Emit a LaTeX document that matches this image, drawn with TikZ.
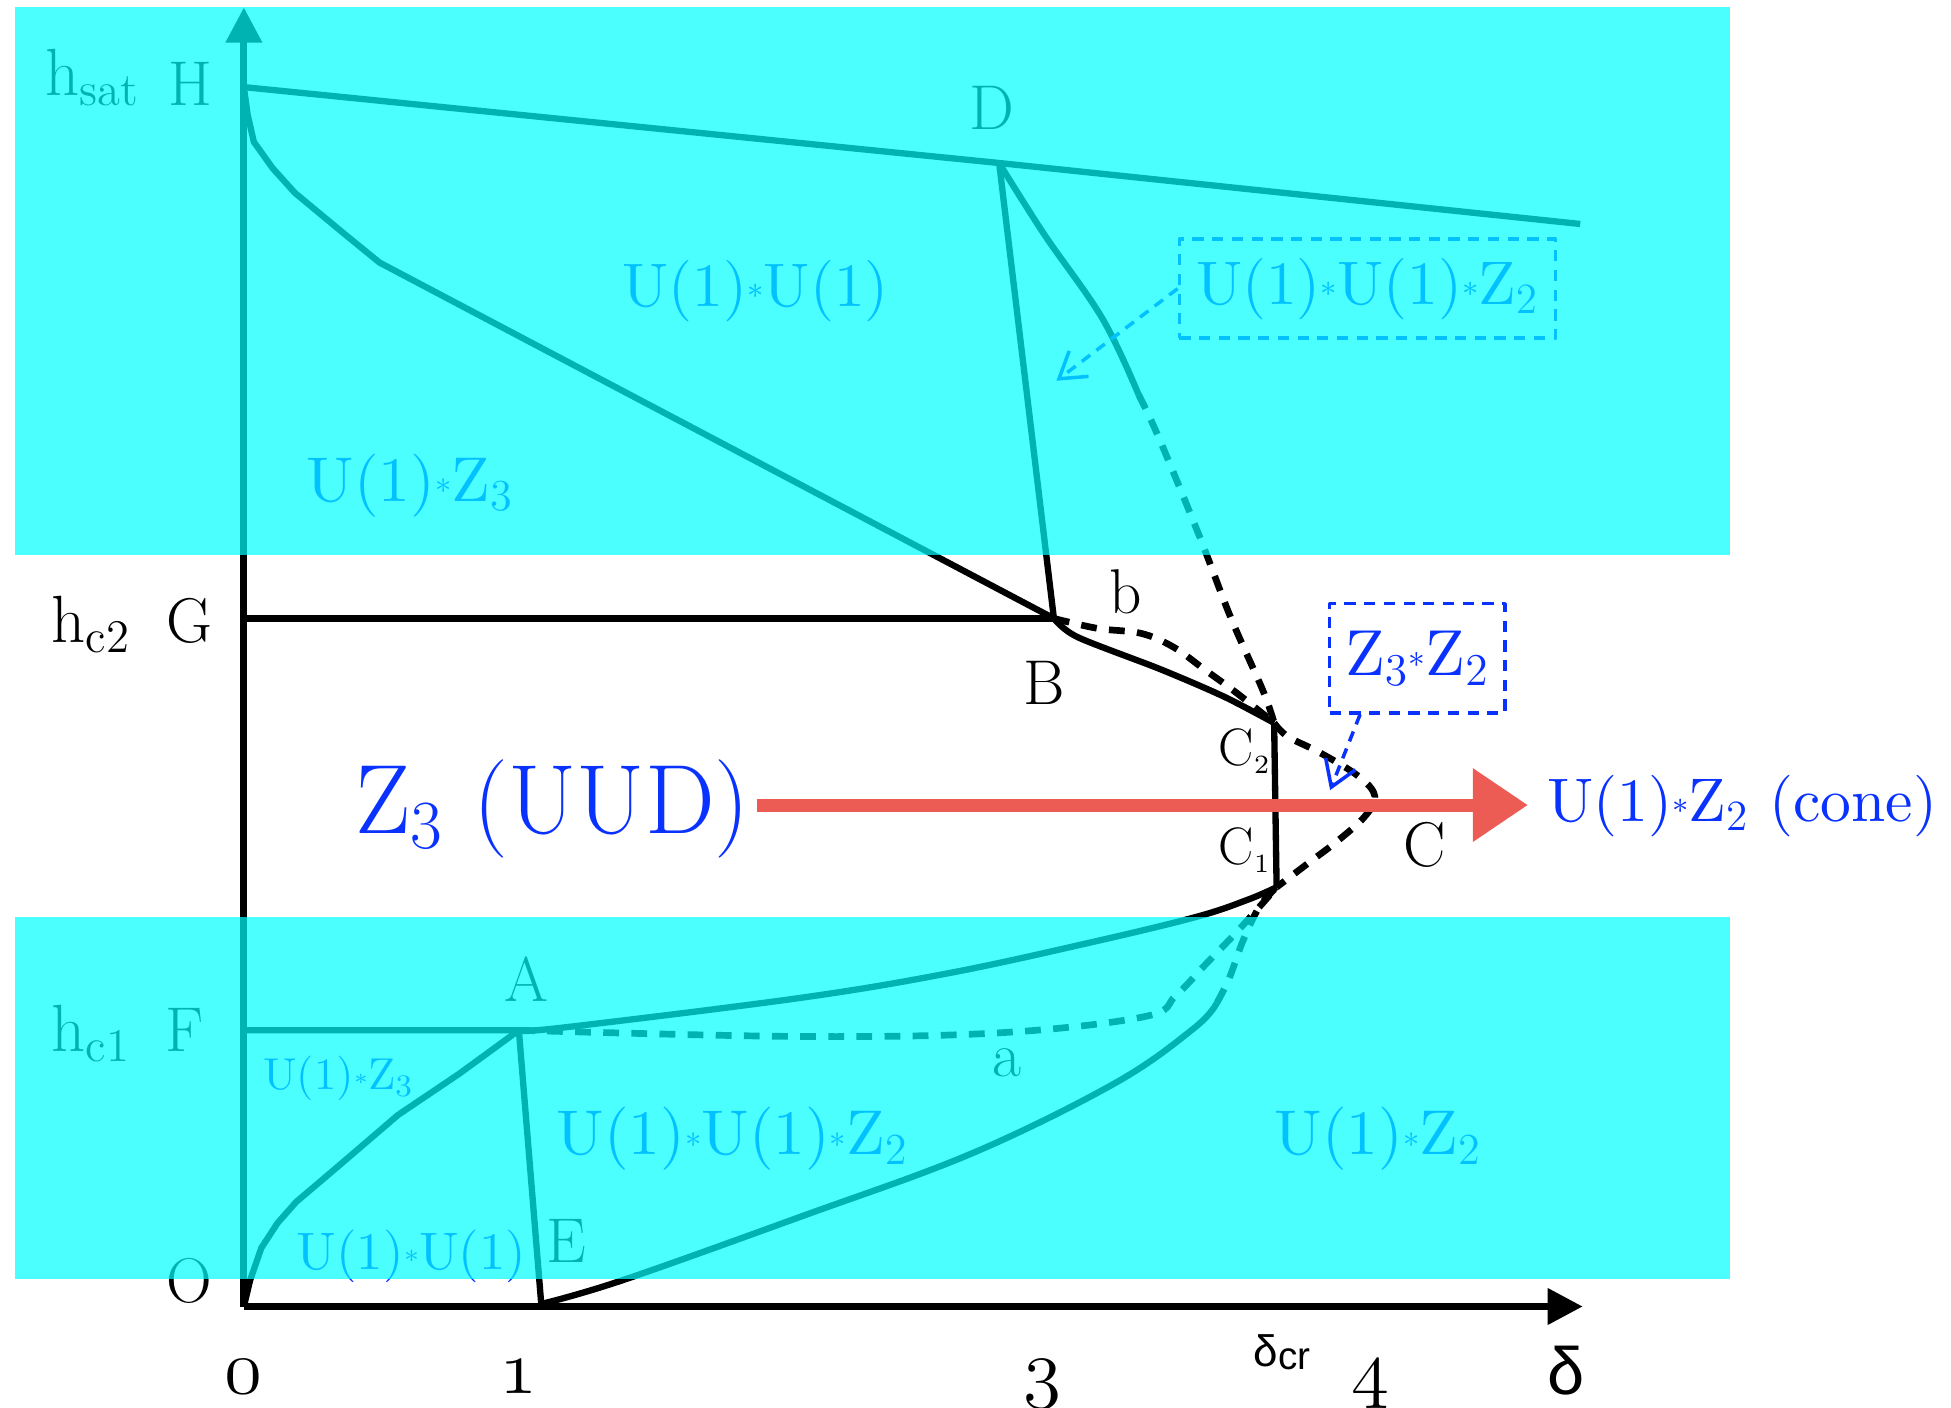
\documentclass[tikz,border=0pt]{standalone}
\usepackage{fix-cm}
\usepackage{fontspec}
\newfontfamily\gsans{Liberation Sans}
\newfontfamily\lmten{lmroman10-regular.otf}
\usetikzlibrary{arrows.meta,calc}
\definecolor{zblue}{RGB}{10,50,255}
\definecolor{chalk}{RGB}{236,92,84}
\definecolor{bandc}{RGB}{0,255,255}
\newcommand\sx{\raisebox{.12em}{$\scriptscriptstyle\ast$}}
\newcommand\Zn[1]{Z$_{#1}$}
\newcommand\fs[1]{\fontsize{#1}{#1}\selectfont}
\newcommand\onum[1]{{\fontsize{22}{24}\usefont{OML}{lmm}{m}{it}#1}}
\begin{document}
\begin{tikzpicture}[x=0.012443cm,y=-0.012443cm,line join=round,
  every node/.style={inner sep=0pt,anchor=base},
  ln/.style={line width=1.8pt},
  dsh/.style={line width=1.9pt,dash pattern=on 4.5pt off 3.5pt},
  axis/.style={line width=2pt,-{Triangle[length=3.5mm,width=3.5mm]}},
  lbl/.style={font=\fs{18}},
  hlbl/.style={font=\fs{19},anchor=base west},
  reg/.style={zblue,anchor=base west},
  dbox/.style={zblue,draw,anchor=center,line width=1pt,dash pattern=on 3.2pt off 2.4pt},
  barrow/.style={zblue,line width=1pt,dash pattern=on 3pt off 2.2pt,-{Straight Barb[length=2.5mm,width=3.2mm]}},
  band/.style={fill=bandc,fill opacity=.7}]
\useasboundingbox (0,0) rectangle (1568,1131);
% points of the diagram
\coordinate (O) at (196,1050);
\coordinate (H) at (196,70);
\coordinate (G) at (196,497);
\coordinate (F) at (196,828);
\coordinate (A) at (417,828);
\coordinate (E) at (435,1048);
\coordinate (B) at (847,497);
\coordinate (D) at (803,131);
\coordinate (C2) at (1024,581);
\coordinate (C1) at (1026,713);
\coordinate (C) at (1105,640);
\coordinate (Hend) at (1270,180);
\coordinate (ytip) at (196,6);
\coordinate (xtip) at (1272,1050);
% axes
\draw[axis] (O) -- (ytip);
\draw[axis] (O) -- (xtip);
% phase boundaries
\draw[ln] (H) -- (D) -- (Hend);
\draw[ln] (G) -- (B);
\draw[ln] (F) -- (A) -- (E);
\draw[ln] (D) -- (B);
\draw[ln] (H) -- (199,92) -- (204,114) -- (219,135) -- (237,155) -- (278,189) -- (305,211) -- (B);
\draw[ln] (O) -- (201,1029) -- (210,1003) -- (223,983) -- (238,966) -- (271,938) -- (320,896) -- (369,863) -- (A);
\draw[ln] plot[smooth,tension=.6] coordinates {(A) (451,826) (643,802) (763,782) (874,758) (961,737) (1003,723) (C1)};
\draw[ln] plot[smooth,tension=.5] coordinates {(B) (866,512) (933,538) (984,560) (C2)};
\draw[ln] (C2) -- (C1);
\draw[ln] plot[smooth,tension=.6] coordinates {(D) (839,188) (886,256) (915,317)};
\draw[dsh] plot[smooth,tension=.6] coordinates {(915,317) (931,351) (964,431) (989,496) (1015,555) (C2)};
\draw[ln] plot[smooth,tension=.6] coordinates {(E) (500,1029) (643,978) (781,927) (897,870) (960,826) (978,806)};
\draw[dsh] plot[smooth,tension=.6] coordinates {(978,806) (988,786) (999,756) (1012,729) (C1)};
\draw[dsh] plot[smooth,tension=.6] coordinates {(A) (643,833) (804,830) (920,817) (945,800) (968,776) (993,750) (1012,729) (C1)};
\draw[dsh] plot[smooth,tension=.6] coordinates {(B) (882,505) (917,509) (943,520) (968,538) (994,557) (C2)};
\draw[dsh] plot[smooth,tension=.6] coordinates {(C2) (1035,592) (1061,605) (1092,624) (C) (1097,656) (1076,675) (1051,694) (C1)};
% point labels
\foreach \t/\x/\y in {H/153/85,G/152/516,F/148/845,O/152/1047,D/797/104,A/423/805,E/455/1015,B/839/566,b/905/493,C/1145/696,a/809/865}
  \node[lbl] (l\t) at (\x,\y) {\t};
\node[anchor=base west,font=\fs{15}] (lC2) at (979,615) {C$_{\scriptscriptstyle 2}$};
\node[anchor=base west,font=\fs{15}] (lC1) at (979,695) {C$_{\scriptscriptstyle 1}$};
\node[hlbl] (hsat) at (36,77) {h$_{\mathrm{sat}}$};
\node[hlbl] (hc2) at (41,516) {h$_{\mathrm{c2}}$};
\node[hlbl] (hc1) at (41,845) {h$_{\mathrm{c1}}$};
\foreach \n/\x in {0/196,1/417,3/838,4/1101}
  \node (t\n) at (\x,1120) {\onum{\n}};
\node[font=\fs{19}] (dlt) at (1259,1121) {\gsans δ};
\node[anchor=base west,font=\fs{12.5}] (dcr) at (1007,1098) {\gsans δ\raisebox{-1pt}{\fs{11}cr}};
% phases
\node[reg,font=\lmten\fs{17.5}] (p1) at (500,246) {U(1)\sx U(1)};
\node[reg,font=\lmten\fs{18}] (p2) at (246,403) {U(1)\sx\Zn3};
\node[dbox,font=\lmten\fs{17.5},minimum width=3.76cm,minimum height=0.99cm] (boxa) at (1099,232) {U(1)\sx U(1)\sx\Zn2};
\coordinate (pa) at (849,306);
\draw[barrow] (boxa.west) -- (pa);
\node[dbox,font=\lmten\fs{18.5},minimum width=1.75cm,minimum height=1.09cm] (boxb) at (1139,529) {\Zn3\sx\Zn2};
\coordinate (pb) at (1069,635);
\draw[barrow] ($(boxb.south west)!.18!(boxb.south east)$) -- (pb);
\node[reg,font=\fs{28}] (uud) at (285,670) {\Zn3 (UUD)};
\node[reg,font=\lmten\fs{17.5}] (cone) at (1243,660) {U(1)\sx\Zn2 (cone)};
\node[reg,font=\lmten\fs{12.7}] (p3) at (211,876) {U(1)\sx\Zn3};
\node[reg,font=\lmten\fs{18}] (p4) at (447,928) {U(1)\sx U(1)\sx\Zn2};
\node[reg,font=\lmten\fs{15}] (p5) at (238,1020) {U(1)\sx U(1)};
\node[reg,font=\lmten\fs{18}] (p6) at (1024,928) {U(1)\sx\Zn2};
% cyan bands
\fill[band] (12,6) rectangle (1390,446);
\fill[band] (12,737) rectangle (1390,1028);
% red arrow
\coordinate (rs) at (608,647);
\coordinate (re) at (1228,647);
\draw[chalk,line width=3.7pt,-{Triangle[length=5.5mm,width=7mm]}] (rs) -- (re);
\end{tikzpicture}
\end{document}
